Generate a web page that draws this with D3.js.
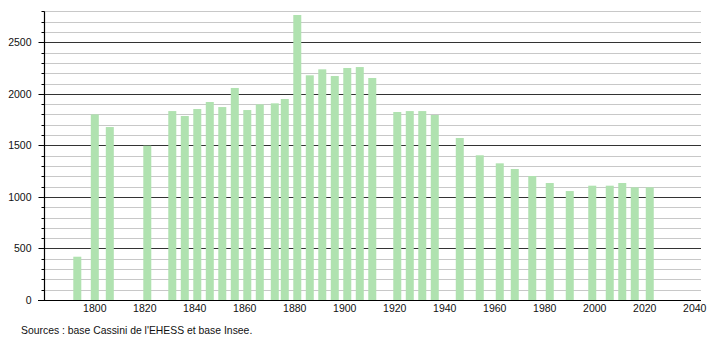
<!DOCTYPE html>
<html>
<head>
<meta charset="utf-8">
<script src="https://cdn.jsdelivr.net/npm/d3@7"></script>
<style>
  html, body { margin: 0; padding: 0; background: #fff; }
  svg { display: block; }
  text { font-family: "Liberation Sans", Arial, sans-serif; fill: #111; }
</style>
</head>
<body>
<svg id="chart" width="710" height="340"></svg>
<script>
const years = [1793, 1800, 1806, 1821, 1831, 1836, 1841, 1846, 1851, 1856, 1861, 1866, 1872, 1876, 1881, 1886, 1891, 1896, 1901, 1906, 1911, 1921, 1926, 1931, 1936, 1946, 1954, 1962, 1968, 1975, 1982, 1990, 1999, 2006, 2011, 2016, 2022];
const population = [420, 1801, 1678, 1497, 1833, 1785, 1853, 1921, 1872, 2057, 1843, 1898, 1908, 1950, 2765, 2180, 2238, 2173, 2251, 2260, 2154, 1824, 1833, 1833, 1795, 1572, 1404, 1326, 1271, 1203, 1135, 1057, 1109, 1109, 1135, 1093, 1093];
const xTicks = [1800, 1820, 1840, 1860, 1880, 1900, 1920, 1940, 1960, 1980, 2000, 2020, 2040];
const yTicks = [0, 500, 1000, 1500, 2000, 2500];
const sourceText = "Sources : base Cassini de l'EHESS et base Insee.";

const svg = d3.select("#chart");
const x = d3.scaleLinear().domain([1780, 2042.5]).range([44.8, 701]);
const y = d3.scaleLinear().domain([0, 2800]).range([300, 11.4]);
const axisX = 44;

// minor gridlines every 100
const minor = d3.range(100, 2801, 100).filter(v => v % 500 !== 0);
svg.append("g").selectAll("line").data(minor).join("line")
  .attr("x1", axisX).attr("x2", 701)
  .attr("y1", d => Math.round(y(d)) + 0.5).attr("y2", d => Math.round(y(d)) + 0.5)
  .attr("stroke", "#c8c8c8").attr("stroke-width", 1);

// major gridlines
svg.append("g").selectAll("line").data(yTicks.filter(v => v > 0)).join("line")
  .attr("x1", axisX).attr("x2", 701)
  .attr("y1", d => Math.round(y(d)) + 0.5).attr("y2", d => Math.round(y(d)) + 0.5)
  .attr("stroke", "#333").attr("stroke-width", 1);

// bars
const bw = 8;
svg.append("g").selectAll("rect").data(years).join("rect")
  .attr("x", (d) => x(d) - bw / 2)
  .attr("width", bw)
  .attr("y", (d, i) => y(population[i]))
  .attr("height", (d, i) => y(0) - y(population[i]))
  .attr("fill", "#b0e2b0");

// y axis line and ticks
const yAxisG = svg.append("g").attr("transform", `translate(${axisX + 0.5},0)`);
yAxisG.append("line").attr("x1", 0).attr("x2", 0).attr("y1", y(2800)).attr("y2", 300)
  .attr("stroke", "#000").attr("stroke-width", 1.2);
yAxisG.selectAll("line.minor").data(minor).join("line").attr("class", "minor")
  .attr("x1", -3).attr("x2", 0)
  .attr("y1", d => Math.round(y(d)) + 0.5).attr("y2", d => Math.round(y(d)) + 0.5)
  .attr("stroke", "#000");
yAxisG.selectAll("line.major").data(yTicks).join("line").attr("class", "major")
  .attr("x1", -6).attr("x2", 0)
  .attr("y1", d => Math.round(y(d)) + 0.5).attr("y2", d => Math.round(y(d)) + 0.5)
  .attr("stroke", "#000");
yAxisG.selectAll("text").data(yTicks).join("text")
  .attr("x", -13).attr("y", d => y(d)).attr("dy", "0.35em")
  .attr("text-anchor", "end").attr("font-size", 10.5)
  .text(d => d);

// x axis baseline
svg.append("line").attr("x1", 38).attr("x2", 701).attr("y1", 300.5).attr("y2", 300.5)
  .attr("stroke", "#000").attr("stroke-width", 1.2);

// x labels
svg.append("g").selectAll("text").data(xTicks).join("text")
  .attr("x", d => x(d)).attr("y", 312)
  .attr("text-anchor", "middle").attr("font-size", 10.5)
  .text(d => d);

// source
svg.append("text").attr("x", 21).attr("y", 334)
  .attr("font-size", 10.4).text(sourceText);
</script>
</body>
</html>
